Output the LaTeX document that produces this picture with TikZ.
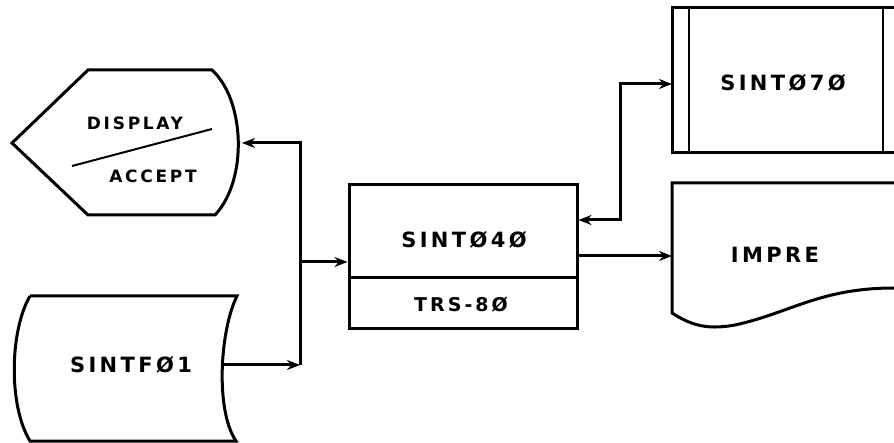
\documentclass[tikz,border=0pt]{standalone}
\usepackage{fontspec}
\usetikzlibrary{arrows.meta}
\newfontfamily\handfont{DejaVu Sans}[LetterSpace=16]

\begin{document}
\begin{tikzpicture}[x=1pt,y=-1pt,
    flow/.style={line width=3pt},
    thin line/.style={line width=2pt},
    lbl/.style={font=\handfont\bfseries\fontsize{21}{23}\selectfont,inner sep=0pt},
    small lbl/.style={font=\handfont\bfseries\fontsize{17}{19}\selectfont,inner sep=0pt},
    >={Stealth[length=13pt,width=10pt]}]
  \useasboundingbox (0,0) rectangle (894,443);
  % display / accept terminal
  \draw[flow] (88,70) -- (212,70)
    .. controls (245,100) and (248,180) .. (215,215)
    -- (88,215) -- (12,143) -- cycle;
  \draw[thin line] (72,166) -- (212,129);
  \node[small lbl] (display) at (135,123) {DISPLAY};
  \node[small lbl] (accept) at (153,176) {ACCEPT};
  \coordinate (disp-e) at (242,143);
  % stored data file
  \draw[flow] (30,296) -- (237,296)
    .. controls (220,330) and (215,410) .. (236,441)
    -- (30,441)
    .. controls (8,405) and (10,330) .. (30,296);
  \node[lbl] (sintf01) at (131,365) {SINTFØ1};
  \coordinate (sintf-e) at (222,365);
  % program box
  \node[flow,draw,minimum width=228,minimum height=93,inner sep=0pt] (sint040) at (463,231.5) {};
  \node[flow,draw,minimum width=228,minimum height=51,inner sep=0pt] (trs80) at (463,303.5) {};
  \node[lbl] (sint040-t) at (464,240) {SINTØ4Ø};
  \node[lbl,font=\handfont\bfseries\fontsize{19}{21}\selectfont] (trs80-t) at (461,305) {TRS-8Ø};
  % subroutine
  \draw[flow] (894,8) -- (672,8) -- (672,153) -- (894,153);
  \draw[thin line] (689,8) -- (689,153);
  \draw[thin line] (883,8) -- (883,153);
  \node[lbl] (sint070) at (783,83) {SINTØ7Ø};
  \coordinate (sint070-w) at (672,84);
  % printed document
  \draw[flow] (894,183) -- (672,183) -- (672,313)
    .. controls (695,328) and (712,329) .. (735,325)
    .. controls (790,313) and (820,288) .. (894,288);
  \node[lbl] (impre) at (775,255) {IMPRE};
  \coordinate (impre-w) at (672,256);
  % connectors
  \coordinate (hub-top) at (300,143);
  \coordinate (hub-bot) at (300,365);
  \coordinate (hub-mid) at (300,262);
  \coordinate (tap-top) at (620,84);
  \coordinate (tap-low) at (620,220);
  \draw[flow,<-] (disp-e) -- (hub-top) -- (hub-bot);
  \draw[flow,->] (sintf-e) -- (hub-bot);
  \draw[flow,->] (hub-mid) -- (hub-mid -| sint040.west);
  \draw[flow,<->] (tap-low -| sint040.east) -- (tap-low) -- (tap-top) -- (sint070-w);
  \draw[flow,->] (impre-w -| sint040.east) -- (impre-w);
\end{tikzpicture}
\end{document}
